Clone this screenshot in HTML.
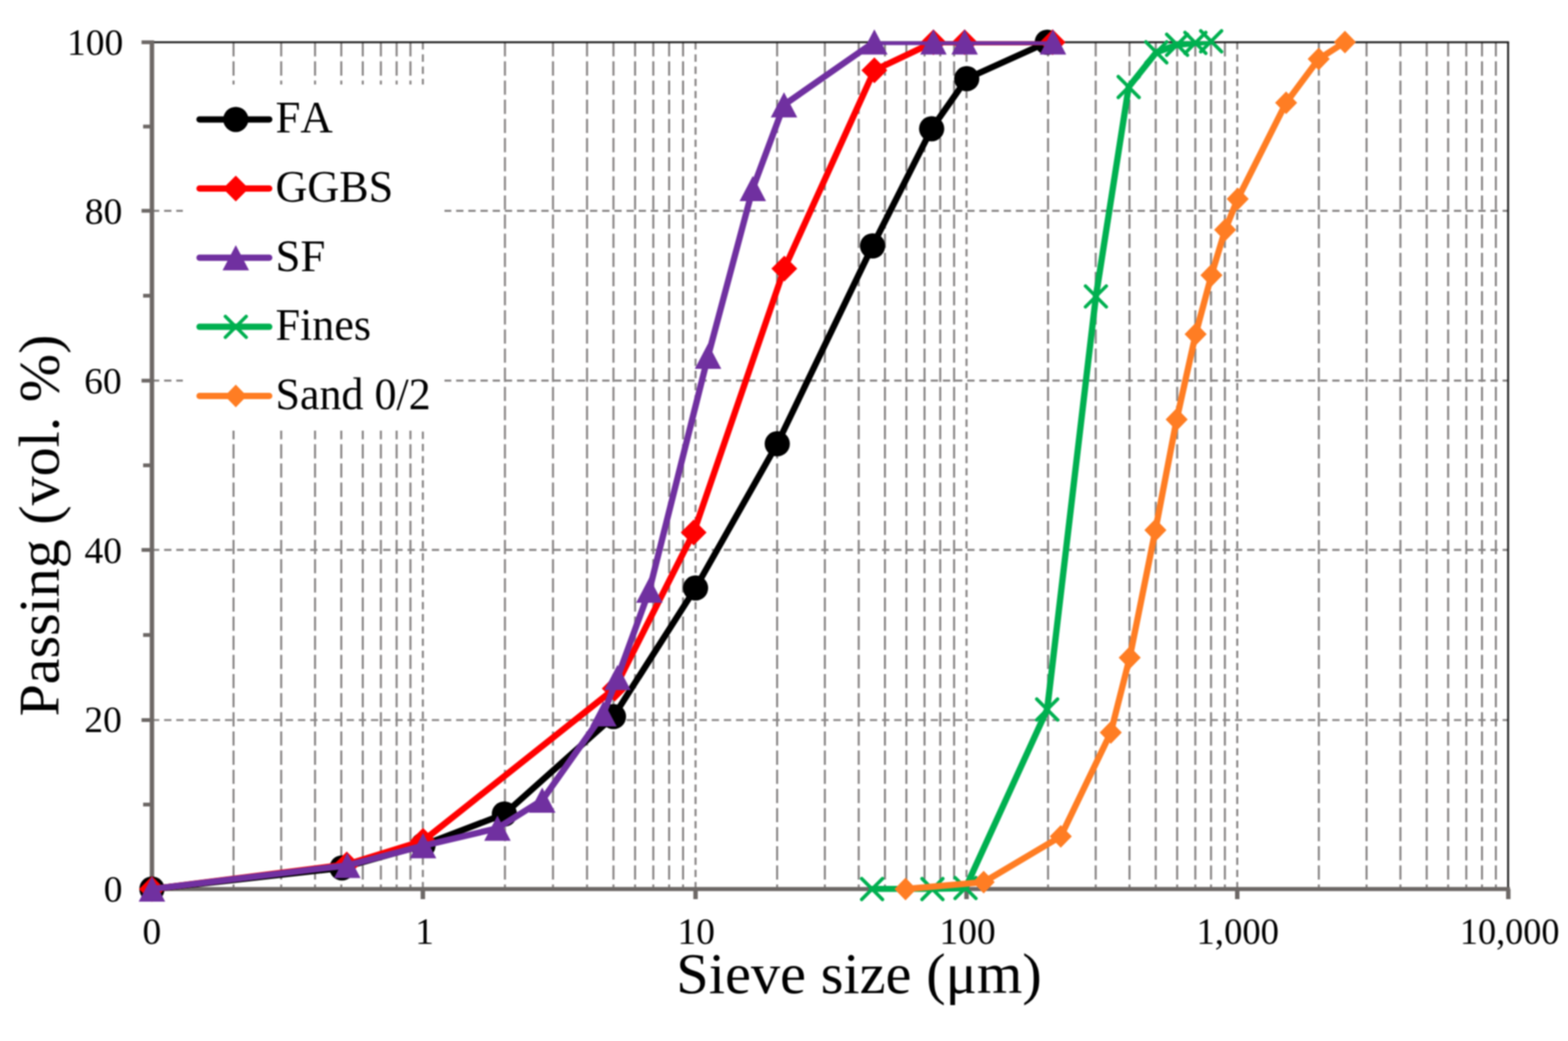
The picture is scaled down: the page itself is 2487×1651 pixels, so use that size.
<!DOCTYPE html><html><head><meta charset="utf-8"><style>html,body{margin:0;padding:0;background:#fff;}svg{display:block;} #wrap{filter:blur(1px);width:2487px;height:1651px;} text{font-family:'Liberation Serif','Times New Roman',serif;fill:#000;font-kerning:none;}</style></head><body>
<div id="wrap"><svg width="2487" height="1651" viewBox="0 0 2487 1651">
<rect width="2487" height="1651" fill="#fff"/>
<defs><clipPath id="pc"><rect x="236" y="65.4" width="2160" height="1349"/></clipPath></defs>
<g><line x1="370.4" y1="67.0" x2="370.4" y2="1410.0" stroke="#878484" stroke-width="3.2" stroke-dasharray="22.6 7.76"/><line x1="446.0" y1="67.0" x2="446.0" y2="1410.0" stroke="#878484" stroke-width="3.2" stroke-dasharray="22.6 7.76"/><line x1="499.7" y1="67.0" x2="499.7" y2="1410.0" stroke="#878484" stroke-width="3.2" stroke-dasharray="22.6 7.76"/><line x1="541.3" y1="67.0" x2="541.3" y2="1410.0" stroke="#878484" stroke-width="3.2" stroke-dasharray="22.6 7.76"/><line x1="575.4" y1="67.0" x2="575.4" y2="1410.0" stroke="#878484" stroke-width="3.2" stroke-dasharray="22.6 7.76"/><line x1="604.1" y1="67.0" x2="604.1" y2="1410.0" stroke="#878484" stroke-width="3.2" stroke-dasharray="22.6 7.76"/><line x1="629.1" y1="67.0" x2="629.1" y2="1410.0" stroke="#878484" stroke-width="3.2" stroke-dasharray="22.6 7.76"/><line x1="651.0" y1="67.0" x2="651.0" y2="1410.0" stroke="#878484" stroke-width="3.2" stroke-dasharray="22.6 7.76"/><line x1="800.9" y1="67.0" x2="800.9" y2="1410.0" stroke="#878484" stroke-width="3.2" stroke-dasharray="22.6 7.76"/><line x1="877.1" y1="67.0" x2="877.1" y2="1410.0" stroke="#878484" stroke-width="3.2" stroke-dasharray="22.6 7.76"/><line x1="931.1" y1="67.0" x2="931.1" y2="1410.0" stroke="#878484" stroke-width="3.2" stroke-dasharray="22.6 7.76"/><line x1="973.0" y1="67.0" x2="973.0" y2="1410.0" stroke="#878484" stroke-width="3.2" stroke-dasharray="22.6 7.76"/><line x1="1007.3" y1="67.0" x2="1007.3" y2="1410.0" stroke="#878484" stroke-width="3.2" stroke-dasharray="22.6 7.76"/><line x1="1036.2" y1="67.0" x2="1036.2" y2="1410.0" stroke="#878484" stroke-width="3.2" stroke-dasharray="22.6 7.76"/><line x1="1061.3" y1="67.0" x2="1061.3" y2="1410.0" stroke="#878484" stroke-width="3.2" stroke-dasharray="22.6 7.76"/><line x1="1083.4" y1="67.0" x2="1083.4" y2="1410.0" stroke="#878484" stroke-width="3.2" stroke-dasharray="22.6 7.76"/><line x1="1232.6" y1="67.0" x2="1232.6" y2="1410.0" stroke="#878484" stroke-width="3.2" stroke-dasharray="22.6 7.76"/><line x1="1308.3" y1="67.0" x2="1308.3" y2="1410.0" stroke="#878484" stroke-width="3.2" stroke-dasharray="22.6 7.76"/><line x1="1362.0" y1="67.0" x2="1362.0" y2="1410.0" stroke="#878484" stroke-width="3.2" stroke-dasharray="22.6 7.76"/><line x1="1403.6" y1="67.0" x2="1403.6" y2="1410.0" stroke="#878484" stroke-width="3.2" stroke-dasharray="22.6 7.76"/><line x1="1437.6" y1="67.0" x2="1437.6" y2="1410.0" stroke="#878484" stroke-width="3.2" stroke-dasharray="22.6 7.76"/><line x1="1466.4" y1="67.0" x2="1466.4" y2="1410.0" stroke="#878484" stroke-width="3.2" stroke-dasharray="22.6 7.76"/><line x1="1491.3" y1="67.0" x2="1491.3" y2="1410.0" stroke="#878484" stroke-width="3.2" stroke-dasharray="22.6 7.76"/><line x1="1513.3" y1="67.0" x2="1513.3" y2="1410.0" stroke="#878484" stroke-width="3.2" stroke-dasharray="22.6 7.76"/><line x1="1662.3" y1="67.0" x2="1662.3" y2="1410.0" stroke="#878484" stroke-width="3.2" stroke-dasharray="22.6 7.76"/><line x1="1737.9" y1="67.0" x2="1737.9" y2="1410.0" stroke="#878484" stroke-width="3.2" stroke-dasharray="22.6 7.76"/><line x1="1791.5" y1="67.0" x2="1791.5" y2="1410.0" stroke="#878484" stroke-width="3.2" stroke-dasharray="22.6 7.76"/><line x1="1833.1" y1="67.0" x2="1833.1" y2="1410.0" stroke="#878484" stroke-width="3.2" stroke-dasharray="22.6 7.76"/><line x1="1867.1" y1="67.0" x2="1867.1" y2="1410.0" stroke="#878484" stroke-width="3.2" stroke-dasharray="22.6 7.76"/><line x1="1895.9" y1="67.0" x2="1895.9" y2="1410.0" stroke="#878484" stroke-width="3.2" stroke-dasharray="22.6 7.76"/><line x1="1920.8" y1="67.0" x2="1920.8" y2="1410.0" stroke="#878484" stroke-width="3.2" stroke-dasharray="22.6 7.76"/><line x1="1942.8" y1="67.0" x2="1942.8" y2="1410.0" stroke="#878484" stroke-width="3.2" stroke-dasharray="22.6 7.76"/><line x1="2091.8" y1="67.0" x2="2091.8" y2="1410.0" stroke="#878484" stroke-width="3.2" stroke-dasharray="22.6 7.76"/><line x1="2167.5" y1="67.0" x2="2167.5" y2="1410.0" stroke="#878484" stroke-width="3.2" stroke-dasharray="22.6 7.76"/><line x1="2221.2" y1="67.0" x2="2221.2" y2="1410.0" stroke="#878484" stroke-width="3.2" stroke-dasharray="22.6 7.76"/><line x1="2262.9" y1="67.0" x2="2262.9" y2="1410.0" stroke="#878484" stroke-width="3.2" stroke-dasharray="22.6 7.76"/><line x1="2296.9" y1="67.0" x2="2296.9" y2="1410.0" stroke="#878484" stroke-width="3.2" stroke-dasharray="22.6 7.76"/><line x1="2325.7" y1="67.0" x2="2325.7" y2="1410.0" stroke="#878484" stroke-width="3.2" stroke-dasharray="22.6 7.76"/><line x1="2350.6" y1="67.0" x2="2350.6" y2="1410.0" stroke="#878484" stroke-width="3.2" stroke-dasharray="22.6 7.76"/><line x1="2372.6" y1="67.0" x2="2372.6" y2="1410.0" stroke="#878484" stroke-width="3.2" stroke-dasharray="22.6 7.76"/><line x1="670.7" y1="67.0" x2="670.7" y2="1410.0" stroke="#878484" stroke-width="3.2" stroke-dasharray="11.6 7.7"/><line x1="1103.2" y1="67.0" x2="1103.2" y2="1410.0" stroke="#878484" stroke-width="3.2" stroke-dasharray="11.6 7.7"/><line x1="1533.0" y1="67.0" x2="1533.0" y2="1410.0" stroke="#878484" stroke-width="3.2" stroke-dasharray="11.6 7.7"/><line x1="1962.4" y1="67.0" x2="1962.4" y2="1410.0" stroke="#878484" stroke-width="3.2" stroke-dasharray="11.6 7.7"/><line x1="241.0" y1="1142.0" x2="2392" y2="1142.0" stroke="#878484" stroke-width="3.2" stroke-dasharray="11.6 7.7"/><line x1="241.0" y1="872.2" x2="2392" y2="872.2" stroke="#878484" stroke-width="3.2" stroke-dasharray="11.6 7.7"/><line x1="241.0" y1="603.7" x2="2392" y2="603.7" stroke="#878484" stroke-width="3.2" stroke-dasharray="11.6 7.7"/><line x1="241.0" y1="334.3" x2="2392" y2="334.3" stroke="#878484" stroke-width="3.2" stroke-dasharray="11.6 7.7"/></g>
<rect x="290" y="134" width="415" height="549" fill="#fff"/>
<line x1="241.0" y1="67.0" x2="2393.5" y2="67.0" stroke="#1a1a1a" stroke-width="3"/>
<line x1="2392" y1="67.0" x2="2392" y2="1410.0" stroke="#1a1a1a" stroke-width="3"/>
<line x1="241.0" y1="64.0" x2="241.0" y2="1413.0" stroke="#6d6866" stroke-width="7"/>
<line x1="224.5" y1="1410.0" x2="241.0" y2="1410.0" stroke="#6d6866" stroke-width="6"/>
<line x1="227" y1="1276.0" x2="241.0" y2="1276.0" stroke="#6d6866" stroke-width="6"/>
<line x1="224.5" y1="1142.0" x2="241.0" y2="1142.0" stroke="#6d6866" stroke-width="6"/>
<line x1="227" y1="1007.1" x2="241.0" y2="1007.1" stroke="#6d6866" stroke-width="6"/>
<line x1="224.5" y1="872.2" x2="241.0" y2="872.2" stroke="#6d6866" stroke-width="6"/>
<line x1="227" y1="738.0" x2="241.0" y2="738.0" stroke="#6d6866" stroke-width="6"/>
<line x1="224.5" y1="603.7" x2="241.0" y2="603.7" stroke="#6d6866" stroke-width="6"/>
<line x1="227" y1="469.0" x2="241.0" y2="469.0" stroke="#6d6866" stroke-width="6"/>
<line x1="224.5" y1="334.3" x2="241.0" y2="334.3" stroke="#6d6866" stroke-width="6"/>
<line x1="227" y1="200.7" x2="241.0" y2="200.7" stroke="#6d6866" stroke-width="6"/>
<line x1="224.5" y1="67.0" x2="241.0" y2="67.0" stroke="#6d6866" stroke-width="6"/>
<line x1="238.0" y1="1410.0" x2="2395" y2="1410.0" stroke="#6d6866" stroke-width="6.5"/>
<line x1="241.0" y1="1410.0" x2="241.0" y2="1426" stroke="#6d6866" stroke-width="7"/>
<line x1="670.7" y1="1410.0" x2="670.7" y2="1426" stroke="#6d6866" stroke-width="7"/>
<line x1="1103.2" y1="1410.0" x2="1103.2" y2="1426" stroke="#6d6866" stroke-width="7"/>
<line x1="1533.0" y1="1410.0" x2="1533.0" y2="1426" stroke="#6d6866" stroke-width="7"/>
<line x1="1962.4" y1="1410.0" x2="1962.4" y2="1426" stroke="#6d6866" stroke-width="7"/>
<line x1="2392.3" y1="1410.0" x2="2392.3" y2="1426" stroke="#6d6866" stroke-width="7"/>
<text x="194.2" y="1429.8" font-size="59.5" text-anchor="end">0</text>
<text x="193.2" y="1161.2" font-size="59.5" text-anchor="end">20</text>
<text x="193.5" y="892.6" font-size="59.5" text-anchor="end">40</text>
<text x="193" y="624.0" font-size="59.5" text-anchor="end">60</text>
<text x="194" y="355.4" font-size="59.5" text-anchor="end">80</text>
<text x="195.5" y="86.8" font-size="59.5" text-anchor="end">100</text>
<text x="240.8" y="1497" font-size="59.5" text-anchor="middle">0</text>
<text x="673.3" y="1497" font-size="59.5" text-anchor="middle">1</text>
<text x="1104.2" y="1497" font-size="59.5" text-anchor="middle">10</text>
<text x="1534.5" y="1497" font-size="59.5" text-anchor="middle">100</text>
<text x="1963.2" y="1497" font-size="59.5" text-anchor="middle" textLength="130.9" lengthAdjust="spacingAndGlyphs">1,000</text>
<text x="2394.5" y="1497" font-size="59.5" text-anchor="middle" textLength="158.1" lengthAdjust="spacingAndGlyphs">10,000</text>
<text x="1362.5" y="1575" font-size="92" text-anchor="middle" textLength="579.8" lengthAdjust="spacingAndGlyphs">Sieve size (μm)</text>
<text transform="translate(93,833.5) rotate(-90)" font-size="92" text-anchor="middle">Passing (vol. %)</text>
<polyline points="241.0,1410.0 542.5,1376.5 671.0,1340.5 800.0,1291.0 973.0,1136.5 1103.2,932.6 1232.8,703.8 1384.0,390.0 1477.7,204.2 1533.3,124.8 1661.1,67.0" fill="none" stroke="#000000" stroke-width="10" stroke-linejoin="round" stroke-linecap="round" clip-path="url(#pc)"/>
<circle cx="241.0" cy="1410.0" r="20" fill="#000000"/><circle cx="542.5" cy="1376.5" r="20" fill="#000000"/><circle cx="671.0" cy="1340.5" r="20" fill="#000000"/><circle cx="800.0" cy="1291.0" r="20" fill="#000000"/><circle cx="973.0" cy="1136.5" r="20" fill="#000000"/><circle cx="1103.2" cy="932.6" r="20" fill="#000000"/><circle cx="1232.8" cy="703.8" r="20" fill="#000000"/><circle cx="1384.0" cy="390.0" r="20" fill="#000000"/><circle cx="1477.7" cy="204.2" r="20" fill="#000000"/><circle cx="1533.3" cy="124.8" r="20" fill="#000000"/><circle cx="1661.1" cy="67.0" r="20" fill="#000000"/>
<polyline points="241.0,1410.0 550.0,1371.0 671.0,1333.5 975.0,1092.0 1100.2,844.6 1244.0,426.0 1386.8,111.4 1480.5,67.0 1530.0,67.0 1669.5,67.0" fill="none" stroke="#ff0000" stroke-width="10" stroke-linejoin="round" stroke-linecap="round" clip-path="url(#pc)"/>
<polygon points="241.0,1389.5 261.5,1410.0 241.0,1430.5 220.5,1410.0" fill="#ff0000"/><polygon points="550.0,1350.5 570.5,1371.0 550.0,1391.5 529.5,1371.0" fill="#ff0000"/><polygon points="671.0,1313.0 691.5,1333.5 671.0,1354.0 650.5,1333.5" fill="#ff0000"/><polygon points="975.0,1071.5 995.5,1092.0 975.0,1112.5 954.5,1092.0" fill="#ff0000"/><polygon points="1100.2,824.1 1120.7,844.6 1100.2,865.1 1079.7,844.6" fill="#ff0000"/><polygon points="1244.0,405.5 1264.5,426.0 1244.0,446.5 1223.5,426.0" fill="#ff0000"/><polygon points="1386.8,90.9 1407.3,111.4 1386.8,131.9 1366.3,111.4" fill="#ff0000"/><polygon points="1480.5,46.5 1501.0,67.0 1480.5,87.5 1460.0,67.0" fill="#ff0000"/><polygon points="1530.0,46.5 1550.5,67.0 1530.0,87.5 1509.5,67.0" fill="#ff0000"/><polygon points="1669.5,46.5 1690.0,67.0 1669.5,87.5 1649.0,67.0" fill="#ff0000"/>
<polyline points="241.0,1410.0 550.8,1372.5 671.0,1341.3 789.0,1313.6 860.0,1269.0 957.0,1132.0 979.4,1074.6 1030.0,936.0 1123.0,565.0 1194.0,299.0 1243.5,166.3 1386.8,66.5 1480.5,66.5 1530.0,66.5 1670.1,66.5" fill="none" stroke="#7030a0" stroke-width="10" stroke-linejoin="round" stroke-linecap="round" clip-path="url(#pc)"/>
<polygon points="241.0,1390.0 262.0,1430.0 220.0,1430.0" fill="#7030a0"/><polygon points="550.8,1352.5 571.8,1392.5 529.8,1392.5" fill="#7030a0"/><polygon points="671.0,1321.3 692.0,1361.3 650.0,1361.3" fill="#7030a0"/><polygon points="789.0,1293.6 810.0,1333.6 768.0,1333.6" fill="#7030a0"/><polygon points="860.0,1249.0 881.0,1289.0 839.0,1289.0" fill="#7030a0"/><polygon points="957.0,1112.0 978.0,1152.0 936.0,1152.0" fill="#7030a0"/><polygon points="979.4,1054.6 1000.4,1094.6 958.4,1094.6" fill="#7030a0"/><polygon points="1030.0,916.0 1051.0,956.0 1009.0,956.0" fill="#7030a0"/><polygon points="1123.0,545.0 1144.0,585.0 1102.0,585.0" fill="#7030a0"/><polygon points="1194.0,279.0 1215.0,319.0 1173.0,319.0" fill="#7030a0"/><polygon points="1243.5,146.3 1264.5,186.3 1222.5,186.3" fill="#7030a0"/><polygon points="1386.8,46.5 1407.8,86.5 1365.8,86.5" fill="#7030a0"/><polygon points="1480.5,46.5 1501.5,86.5 1459.5,86.5" fill="#7030a0"/><polygon points="1530.0,46.5 1551.0,86.5 1509.0,86.5" fill="#7030a0"/><polygon points="1670.1,46.5 1691.1,86.5 1649.1,86.5" fill="#7030a0"/>
<polyline points="1383.2,1410.0 1478.9,1410.0 1531.4,1408.4 1660.9,1125.2 1738.2,470.1 1790.2,138.0 1834.0,83.0 1867.0,71.0 1896.0,68.0 1921.0,65.5" fill="none" stroke="#00b050" stroke-width="10" stroke-linejoin="round" stroke-linecap="round" clip-path="url(#pc)"/>
<path d="M1366.7,1393.5L1399.7,1426.5M1366.7,1426.5L1399.7,1393.5" stroke="#00b050" stroke-width="5.5" stroke-linecap="round" fill="none"/><path d="M1462.4,1393.5L1495.4,1426.5M1462.4,1426.5L1495.4,1393.5" stroke="#00b050" stroke-width="5.5" stroke-linecap="round" fill="none"/><path d="M1514.9,1391.9L1547.9,1424.9M1514.9,1424.9L1547.9,1391.9" stroke="#00b050" stroke-width="5.5" stroke-linecap="round" fill="none"/><path d="M1644.4,1108.7L1677.4,1141.7M1644.4,1141.7L1677.4,1108.7" stroke="#00b050" stroke-width="5.5" stroke-linecap="round" fill="none"/><path d="M1721.7,453.6L1754.7,486.6M1721.7,486.6L1754.7,453.6" stroke="#00b050" stroke-width="5.5" stroke-linecap="round" fill="none"/><path d="M1773.7,121.5L1806.7,154.5M1773.7,154.5L1806.7,121.5" stroke="#00b050" stroke-width="5.5" stroke-linecap="round" fill="none"/><path d="M1817.5,66.5L1850.5,99.5M1817.5,99.5L1850.5,66.5" stroke="#00b050" stroke-width="5.5" stroke-linecap="round" fill="none"/><path d="M1850.5,54.5L1883.5,87.5M1850.5,87.5L1883.5,54.5" stroke="#00b050" stroke-width="5.5" stroke-linecap="round" fill="none"/><path d="M1879.5,51.5L1912.5,84.5M1879.5,84.5L1912.5,51.5" stroke="#00b050" stroke-width="5.5" stroke-linecap="round" fill="none"/><path d="M1904.5,49.0L1937.5,82.0M1904.5,82.0L1937.5,49.0" stroke="#00b050" stroke-width="5.5" stroke-linecap="round" fill="none"/>
<polyline points="1436.2,1410.0 1560.2,1399.1 1682.5,1326.5 1761.8,1161.8 1791.8,1043.1 1832.6,840.7 1866.3,665.3 1896.4,530.1 1921.5,436.4 1943.2,364.5 1963.1,315.5 2039.9,163.0 2091.6,93.6 2133.2,66.8" fill="none" stroke="#ff7d23" stroke-width="10" stroke-linejoin="round" stroke-linecap="round" clip-path="url(#pc)"/>
<polygon points="1436.2,1392.0 1453.7,1410.0 1436.2,1428.0 1418.7,1410.0" fill="#ff7d23"/><polygon points="1560.2,1381.1 1577.7,1399.1 1560.2,1417.1 1542.7,1399.1" fill="#ff7d23"/><polygon points="1682.5,1308.5 1700.0,1326.5 1682.5,1344.5 1665.0,1326.5" fill="#ff7d23"/><polygon points="1761.8,1143.8 1779.3,1161.8 1761.8,1179.8 1744.3,1161.8" fill="#ff7d23"/><polygon points="1791.8,1025.1 1809.3,1043.1 1791.8,1061.1 1774.3,1043.1" fill="#ff7d23"/><polygon points="1832.6,822.7 1850.1,840.7 1832.6,858.7 1815.1,840.7" fill="#ff7d23"/><polygon points="1866.3,647.3 1883.8,665.3 1866.3,683.3 1848.8,665.3" fill="#ff7d23"/><polygon points="1896.4,512.1 1913.9,530.1 1896.4,548.1 1878.9,530.1" fill="#ff7d23"/><polygon points="1921.5,418.4 1939.0,436.4 1921.5,454.4 1904.0,436.4" fill="#ff7d23"/><polygon points="1943.2,346.5 1960.7,364.5 1943.2,382.5 1925.7,364.5" fill="#ff7d23"/><polygon points="1963.1,297.5 1980.6,315.5 1963.1,333.5 1945.6,315.5" fill="#ff7d23"/><polygon points="2039.9,145.0 2057.4,163.0 2039.9,181.0 2022.4,163.0" fill="#ff7d23"/><polygon points="2091.6,75.6 2109.1,93.6 2091.6,111.6 2074.1,93.6" fill="#ff7d23"/><polygon points="2133.2,48.8 2150.7,66.8 2133.2,84.8 2115.7,66.8" fill="#ff7d23"/>
<line x1="316.5" y1="189.4" x2="427" y2="189.4" stroke="#000000" stroke-width="10" stroke-linecap="round"/>
<circle cx="374.0" cy="189.4" r="20" fill="#000000"/>
<text x="437" y="210.4" font-size="71">FA</text>
<line x1="316.5" y1="299.05" x2="427" y2="299.05" stroke="#ff0000" stroke-width="10" stroke-linecap="round"/>
<polygon points="374.0,278.6 394.5,299.1 374.0,319.6 353.5,299.1" fill="#ff0000"/>
<text x="437" y="320.1" font-size="71" textLength="186.7" lengthAdjust="spacingAndGlyphs">GGBS</text>
<line x1="316.5" y1="408.7" x2="427" y2="408.7" stroke="#7030a0" stroke-width="10" stroke-linecap="round"/>
<polygon points="374.0,388.7 395.0,428.7 353.0,428.7" fill="#7030a0"/>
<text x="437" y="429.7" font-size="71">SF</text>
<line x1="316.5" y1="518.35" x2="427" y2="518.35" stroke="#00b050" stroke-width="10" stroke-linecap="round"/>
<path d="M357.5,501.9L390.5,534.9M357.5,534.9L390.5,501.9" stroke="#00b050" stroke-width="5.5" stroke-linecap="round" fill="none"/>
<text x="437" y="539.4" font-size="71" textLength="151.6" lengthAdjust="spacingAndGlyphs">Fines</text>
<line x1="316.5" y1="628.0" x2="427" y2="628.0" stroke="#ff7d23" stroke-width="10" stroke-linecap="round"/>
<polygon points="374.0,610.0 391.5,628.0 374.0,646.0 356.5,628.0" fill="#ff7d23"/>
<text x="437" y="649.0" font-size="71" textLength="246" lengthAdjust="spacingAndGlyphs">Sand 0/2</text>
</svg></div></body></html>
